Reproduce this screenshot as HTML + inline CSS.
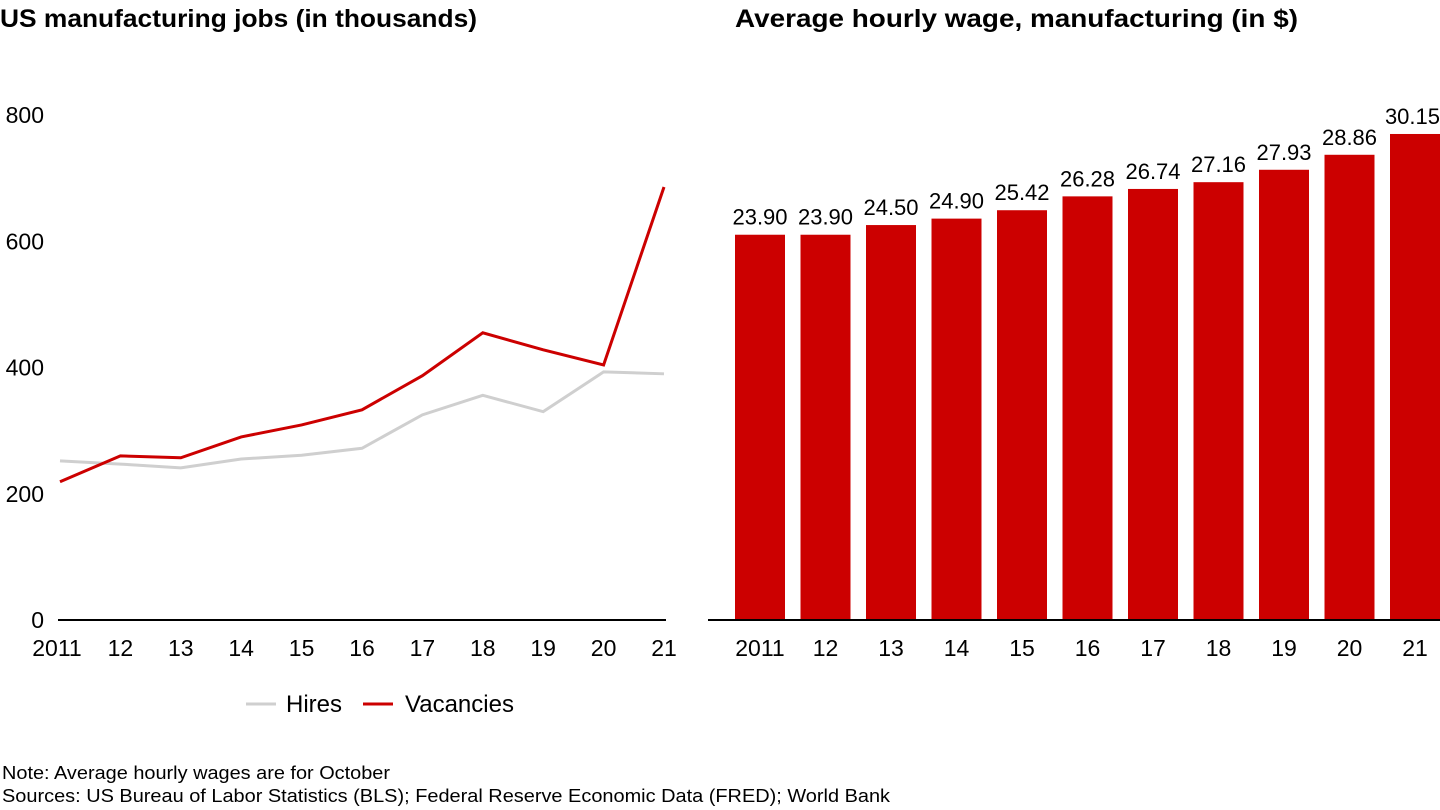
<!DOCTYPE html>
<html><head><meta charset="utf-8"><style>
body{margin:0;background:#fff;width:1440px;height:810px;overflow:hidden;font-family:"Liberation Sans",Arial,sans-serif;}
svg{display:block}
text{font-family:"Liberation Sans",Arial,sans-serif;fill:#000}
</style></head><body>
<svg id="c" width="1440" height="810">
<text x="0" y="27" font-size="25" font-weight="bold" textLength="477" lengthAdjust="spacingAndGlyphs">US manufacturing jobs (in thousands)</text>
<text x="735" y="27" font-size="25" font-weight="bold" textLength="563" lengthAdjust="spacingAndGlyphs">Average hourly wage, manufacturing (in $)</text>
<g id="left"></g><g id="right"></g>
<line x1="246" y1="704" x2="276" y2="704" stroke="#cfcfcf" stroke-width="3"/>
<text x="286" y="712" font-size="24">Hires</text>
<line x1="363" y1="704" x2="393" y2="704" stroke="#cc0000" stroke-width="3"/>
<text x="405" y="712" font-size="24">Vacancies</text>
<text x="2" y="779" font-size="18" textLength="388" lengthAdjust="spacingAndGlyphs">Note: Average hourly wages are for October</text>
<text x="2" y="802" font-size="18" textLength="888" lengthAdjust="spacingAndGlyphs">Sources: US Bureau of Labor Statistics (BLS); Federal Reserve Economic Data (FRED); World Bank</text>
</svg>
<script>
const years=["2011","12","13","14","15","16","17","18","19","20","21"];
const hires=[252,247,241,255,261,272,325,356,330,393,390];
const vacancies=[219,260,257,290,309,333,387,455,428,404,686];
const yTicks=[0,200,400,600,800];
const wages=[23.90,23.90,24.50,24.90,25.42,26.28,26.74,27.16,27.93,28.86,30.15];
const wageLabels=["23.90","23.90","24.50","24.90","25.42","26.28","26.74","27.16","27.93","28.86","30.15"];
const NS="http://www.w3.org/2000/svg";
function mk(t,a,p){const e=document.createElementNS(NS,t);for(const k in a)e.setAttribute(k,a[k]);p.appendChild(e);return e;}
const L=document.getElementById('left'),R=document.getElementById('right');
const ly=v=>620-v*505/800, lx=i=>60+i*60.4;
yTicks.forEach(v=>{const t=mk('text',{x:44,y:ly(v)+8,'font-size':23,'text-anchor':'end'},L);t.textContent=v;

});
const ax=mk('line',{x1:58,y1:620,x2:666,y2:620,stroke:'#000','stroke-width':2},L);


years.forEach((y,i)=>{const t=mk('text',{x:i==0?57:lx(i),y:656,'font-size':23,'text-anchor':'middle'},L);t.textContent=y;

});
const hp=mk('polyline',{points:hires.map((v,i)=>lx(i)+','+ly(v)).join(' '),fill:'none',stroke:'#cfcfcf','stroke-width':3},L);


const vp=mk('polyline',{points:vacancies.map((v,i)=>lx(i)+','+ly(v)).join(' '),fill:'none',stroke:'#cc0000','stroke-width':3},L);


const by=v=>620-v*16.12, bx=i=>735+i*65.5;
wages.forEach((v,i)=>{const r=mk('rect',{x:bx(i),y:by(v),width:50,height:620-by(v),fill:'#cc0000'},R);


const t=mk('text',{x:bx(i)+25,y:by(v)-10,'font-size':22,'text-anchor':'middle'},R);t.textContent=wageLabels[i];


const w=t.getComputedTextLength();
if(bx(i)+25+w/2>1440)t.setAttribute('x',1440-w/2);
const y=mk('text',{x:bx(i)+25,y:656,'font-size':23,'text-anchor':'middle'},R);y.textContent=years[i];

});
const ax2=mk('line',{x1:708,y1:620,x2:1440,y2:620,stroke:'#000','stroke-width':2},R);


</script>
</body></html>
